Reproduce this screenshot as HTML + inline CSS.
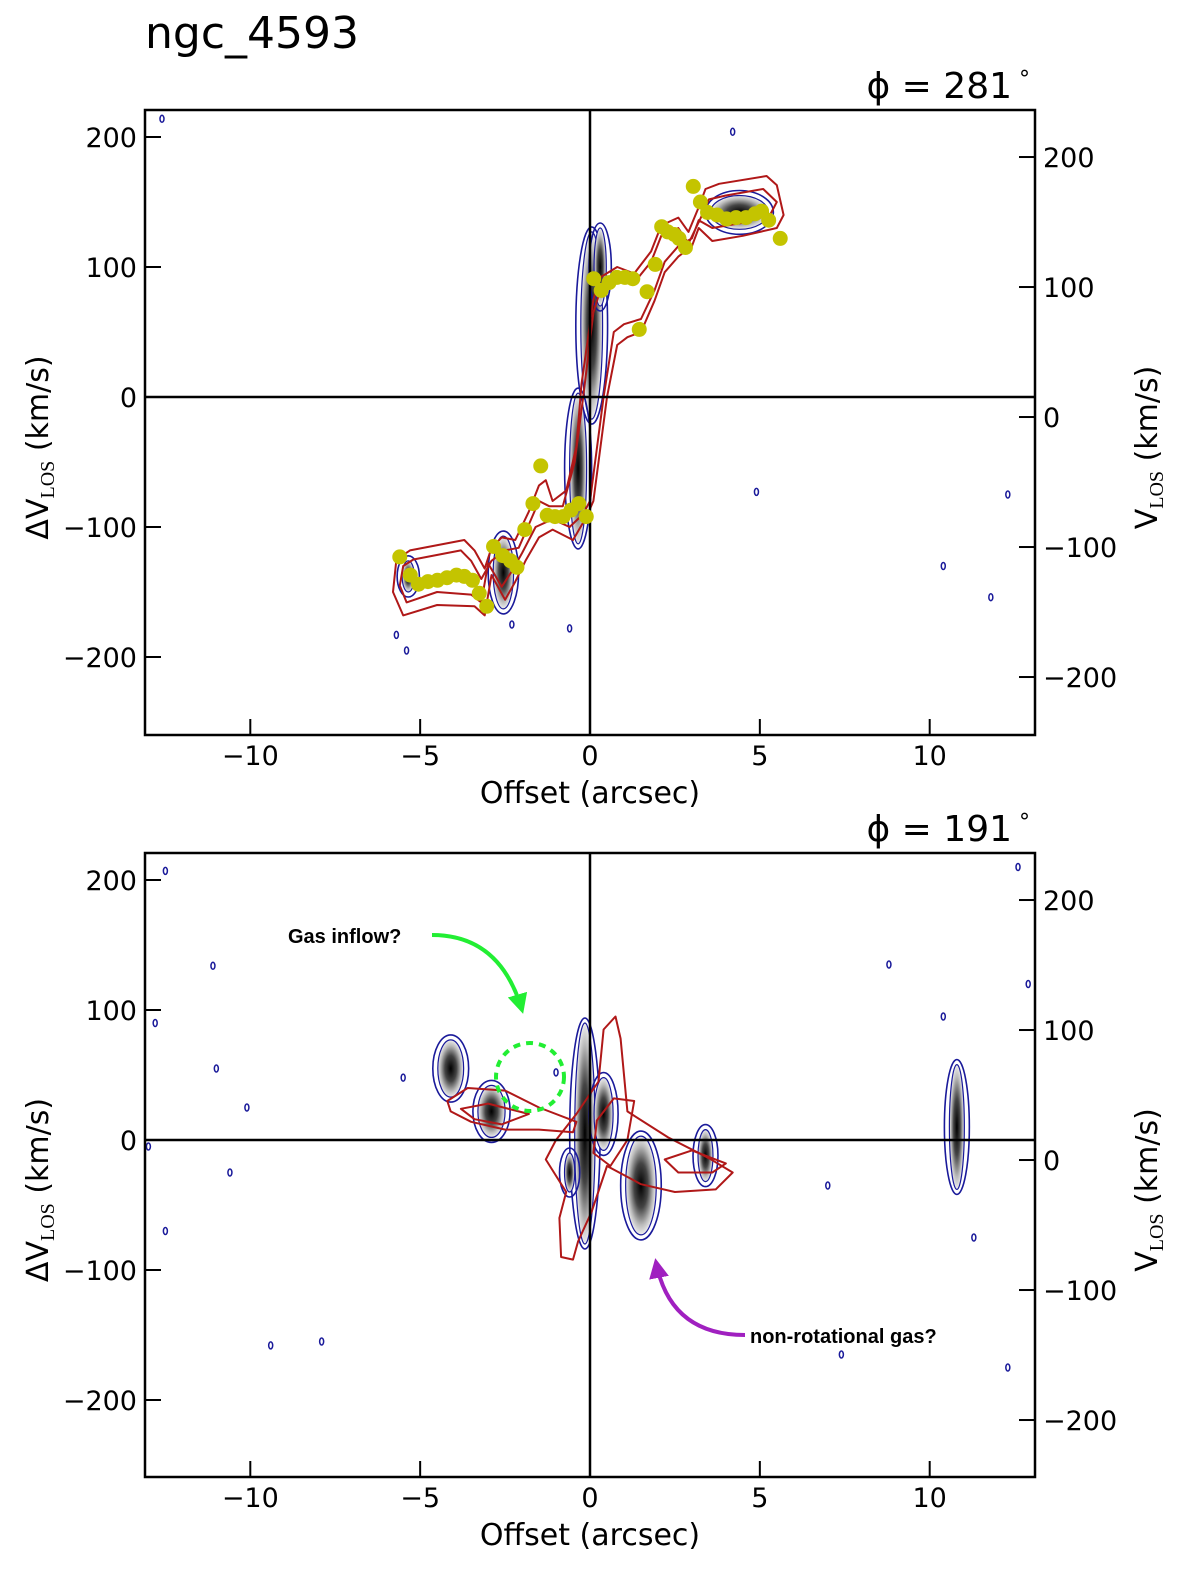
<!DOCTYPE html>
<html><head><meta charset="utf-8"><style>
body{margin:0;background:#fff;}
svg{display:block;font-family:"DejaVu Sans","Liberation Sans",sans-serif;}
</style></head><body>
<svg id="fig" width="1200" height="1594" viewBox="0 0 1200 1594" xmlns="http://www.w3.org/2000/svg">
<defs>
<radialGradient id="blob"><stop offset="0" stop-color="#000"/><stop offset="0.45" stop-color="#444"/><stop offset="0.8" stop-color="#bbb"/><stop offset="1" stop-color="#eee"/></radialGradient>
<marker id="ah-green" viewBox="0 0 10 10" refX="8" refY="5" markerWidth="5" markerHeight="5" orient="auto"><path d="M0,0 L10,5 L0,10 z" fill="#22ee33"/></marker>
<marker id="ah-purple" viewBox="0 0 10 10" refX="8" refY="5" markerWidth="5" markerHeight="5" orient="auto"><path d="M0,0 L10,5 L0,10 z" fill="#a020c0"/></marker>
</defs>
<text x="145" y="48" font-size="44">ngc_4593</text>
<g id="top"></g>
<g id="bot"></g>
</svg>
<script>
// ---- data ----
const xTicks = [-10, -5, 0, 5, 10];
const yTicksLeft = [-200, -100, 0, 100, 200];
const yTicksRight = [-200, -100, 0, 100, 200];
const vSys = 15.4; // V_LOS = dV + vSys
const topAngle = "281";
const botAngle = "191";
// yellow rotation-curve points (top panel)
const rcX = [-5.6,-5.29,-5.05,-4.77,-4.49,-4.21,-3.93,-3.70,-3.46,-3.26,-3.04,-2.84,-2.57,-2.34,-2.15,-1.92,-1.68,-1.45,-1.26,-1.03,-0.79,-0.56,-0.33,-0.11,0.11,0.33,0.56,0.79,1.03,1.26,1.45,1.68,1.92,2.11,2.29,2.48,2.62,2.81,3.04,3.25,3.46,3.74,4.02,4.30,4.59,4.86,5.05,5.26,5.6];
const rcV = [-123,-137,-144,-142,-141,-139,-137,-138,-141,-151,-161,-115,-122,-126,-131,-102,-82,-53,-91,-92,-92,-87,-82,-92,91,82,88,92,92,91,52,81,102,131,127,125,122,115,162,150,142,140,137,138,138,141,143,136,122];
// red contours top panel [x,dv]
const topOuter = [[-5.7,-125],[-5.3,-118],[-3.7,-110],[-3.4,-118],[-3.1,-132],[-2.9,-116],[-2.6,-108],[-2.2,-110],[-1.8,-88],[-1.5,-68],[-1.3,-64],[-1.1,-80],[-0.7,-72],[-0.4,-38],[-0.25,10],[0.1,75],[0.3,92],[0.8,100],[1.3,95],[1.8,112],[2.1,132],[2.6,138],[2.9,127],[3.2,146],[3.4,160],[3.8,164],[5.2,170],[5.5,163],[5.7,140],[5.5,130],[4.5,124],[3.6,120],[3.2,130],[3.0,116],[2.6,108],[2.2,96],[1.9,74],[1.5,50],[1.1,46],[0.8,40],[0.5,0],[0.3,-40],[0.1,-80],[-0.1,-92],[-0.5,-110],[-1.1,-102],[-1.5,-108],[-1.9,-126],[-2.2,-142],[-2.5,-156],[-2.9,-137],[-3.1,-168],[-3.4,-161],[-4.5,-160],[-5.5,-168],[-5.8,-150]];
const topInner = [[-5.5,-130],[-5.2,-125],[-3.8,-118],[-3.5,-126],[-3.2,-140],[-2.9,-126],[-2.5,-118],[-2.1,-116],[-1.8,-98],[-1.5,-80],[-1.2,-84],[-0.8,-84],[-0.45,-50],[-0.2,0],[0.1,65],[0.3,82],[0.8,90],[1.3,88],[1.8,104],[2.1,124],[2.6,130],[2.9,118],[3.3,140],[3.5,152],[4.0,155],[5.1,160],[5.5,150],[5.3,140],[4.5,134],[3.6,130],[3.2,136],[3.0,122],[2.6,116],[2.2,104],[1.9,82],[1.5,60],[1.0,56],[0.7,50],[0.4,0],[0.2,-40],[0.0,-80],[-0.2,-90],[-0.6,-100],[-1.1,-94],[-1.6,-100],[-2.0,-120],[-2.3,-134],[-2.6,-146],[-3.0,-128],[-3.2,-158],[-3.5,-152],[-4.5,-150],[-5.4,-158],[-5.6,-145]];
// gray emission blobs [x, dv, halfwidth(arcsec), halfheight(km/s)]
const topBlobs = [[0.05,55,0.32,72],[-0.35,-55,0.25,58],[0.3,100,0.18,30],[-2.55,-135,0.3,28],[4.4,142,0.85,13],[-5.35,-138,0.18,12]];
const botBlobs = [[-0.15,5,0.3,85],[0.4,20,0.28,28],[1.5,-35,0.45,38],[3.4,-12,0.22,20],[-2.9,22,0.4,20],[-4.1,55,0.38,22],[10.8,10,0.22,48],[-0.6,-25,0.15,15]];
// blue specks [x, dv]
const topSpecks = [[-12.6,214],[-5.7,-183],[-5.4,-195],[4.9,-73],[12.3,-75],[11.8,-154],[-0.6,-178],[-2.3,-175],[10.4,-130],[4.2,204]];
const botSpecks = [[-12.5,207],[-13,-5],[-11.1,134],[-12.8,90],[-10.6,-25],[-9.4,-158],[-7.9,-155],[-12.5,-70],[-10.1,25],[-11,55],[-5.5,48],[8.8,135],[7.4,-165],[12.6,210],[12.9,120],[12.3,-175],[11.3,-75],[10.4,95],[7.0,-35],[-1.0,52]];
// red contours bottom panel
const botA = [[-4.2,30],[-3.6,40],[-2.5,38],[-1.5,25],[-0.4,14],[-0.5,6],[-1.5,8],[-2.5,8],[-3.5,14],[-4.1,22]];
const botAin = [[-3.8,24],[-3.0,28],[-1.8,20],[-2.6,12],[-3.4,16]];
const botB = [[0.25,45],[0.4,85],[0.75,95],[0.9,78],[1.1,22],[2.3,2],[3.5,-14],[4.2,-25],[3.7,-38],[2.5,-40],[1.5,-34],[0.5,-20],[0.05,-55],[-0.35,-78],[-0.5,-92],[-0.85,-90],[-0.9,-60],[-0.7,-40],[-1.3,-15],[-1.0,0],[-0.4,20]];
const botBin = [[0.2,15],[0.7,32],[1.3,30],[1.1,0],[0.6,-20],[0.1,-10]];
const botC = [[2.2,-15],[3.0,-8],[4.0,-18],[3.6,-25],[2.6,-25]];

// ---- drawing ----
const NS = "http://www.w3.org/2000/svg";
const X0 = 145, X1 = 1035, XMIN = -13.1, XMAX = 13.1;
function sx(x){ return X0 + (x - XMIN) / (XMAX - XMIN) * (X1 - X0); }
function mk(tag, attrs, parent){ const e = document.createElementNS(NS, tag); for (const k in attrs) e.setAttribute(k, attrs[k]); parent.appendChild(e); return e; }
function pathOf(pts, sy){ return "M" + pts.map(p => sx(p[0]).toFixed(1) + "," + sy(p[1]).toFixed(1)).join(" L") + " Z"; }

function panel(g, top, bottom, zeroY, angle, blobs, specks, reds, redsThin, points){
  const sy = v => zeroY - v * 1.3;
  blobs.forEach(b => {
    const o = mk("ellipse", {cx: sx(b[0]), cy: sy(b[1]), rx: b[2]*34 + 5, ry: b[3]*1.3 + 5, fill: "none", stroke: "#1a1a9a", "stroke-width": 1.6}, g);
    
    
    const e = mk("ellipse", {cx: sx(b[0]), cy: sy(b[1]), rx: b[2]*34, ry: b[3]*1.3, fill: "url(#blob)", stroke: "#1a1a9a", "stroke-width": 1.2}, g);
    
    
  });
  specks.forEach(s => {
    const e = mk("ellipse", {cx: sx(s[0]), cy: sy(s[1]), rx: 2, ry: 3.5, fill: "none", stroke: "#1a1a9a", "stroke-width": 1.5}, g);
    
    
  });
  reds.forEach(r => {
    const e = mk("path", {d: pathOf(r, sy), fill: "none", stroke: "#b01818", "stroke-width": 2, "stroke-linejoin": "round"}, g);
    
    
  });
  let l = mk("line", {x1: X0, x2: X1, y1: sy(0), y2: sy(0), stroke: "#000", "stroke-width": 2.5}, g);
  
  
  l = mk("line", {x1: sx(0), x2: sx(0), y1: top, y2: bottom, stroke: "#000", "stroke-width": 2.5}, g);
  
  
  if (points){
    points[0].forEach((x, i) => {
      const c = mk("circle", {cx: sx(x), cy: sy(points[1][i]), r: 7.5, fill: "#c4c400"}, g);
      
      
    });
  }
  const f = mk("rect", {x: X0, y: top, width: X1 - X0, height: bottom - top, fill: "none", stroke: "#000", "stroke-width": 2.5}, g);
  
  
  xTicks.forEach(t => {
    const tl = mk("line", {x1: sx(t), x2: sx(t), y1: bottom, y2: bottom - 16, stroke: "#000", "stroke-width": 2}, g);
    
    
    const tx = mk("text", {x: sx(t), y: bottom + 30, "font-size": 27, "text-anchor": "middle"}, g);
    tx.textContent = (t < 0 ? "\u2212" + (-t) : t);
    
    
  });
  yTicksLeft.forEach(t => {
    const tl = mk("line", {x1: X0, x2: X0 + 16, y1: sy(t), y2: sy(t), stroke: "#000", "stroke-width": 2}, g);
    
    
    const tx = mk("text", {x: X0 - 8, y: sy(t) + 10, "font-size": 27, "text-anchor": "end"}, g);
    tx.textContent = (t < 0 ? "\u2212" + (-t) : t);
    
    
  });
  yTicksRight.forEach(t => {
    const y = sy(t - vSys);
    const tl = mk("line", {x1: X1 - 16, x2: X1, y1: y, y2: y, stroke: "#000", "stroke-width": 2}, g);
    
    
    const tx = mk("text", {x: X1 + 8, y: y + 10, "font-size": 27, "text-anchor": "start"}, g);
    tx.textContent = (t < 0 ? "\u2212" + (-t) : t);
    
    
  });
  const xl = mk("text", {x: 590, y: bottom + 68, "font-size": 30, "text-anchor": "middle"}, g);
  xl.textContent = "Offset (arcsec)";
  
  
  const mid = (top + bottom) / 2 + 25;
  const yl = mk("text", {x: 0, y: 0, "font-size": 30, "text-anchor": "middle", transform: `translate(48,${mid}) rotate(-90)`}, g);
  yl.innerHTML = 'ΔV<tspan font-size="20" dy="6" font-family="Liberation Serif, serif">LOS</tspan><tspan dy="-6"> (km/s)</tspan>';
  
  
  const yr = mk("text", {x: 0, y: 0, "font-size": 30, "text-anchor": "middle", transform: `translate(1157,${mid}) rotate(-90)`}, g);
  yr.innerHTML = 'V<tspan font-size="20" dy="6" font-family="Liberation Serif, serif">LOS</tspan><tspan dy="-6"> (km/s)</tspan>';
  
  
  const at = mk("text", {x: 1030, y: top - 12, "font-size": 36, "text-anchor": "end"}, g);
  at.innerHTML = 'ϕ = ' + angle + '<tspan font-size="22" dy="-12"> °</tspan>';
  
  
}
panel(document.getElementById("top"), 110, 735, 397, topAngle, topBlobs, topSpecks, [topOuter, topInner], null, [rcX, rcV]);
panel(document.getElementById("bot"), 853, 1477, 1140, botAngle, botBlobs, botSpecks, [botA, botAin, botB, botBin, botC], null, null);

const bg = document.getElementById("bot");
let e;
e = mk("text", {x: 288, y: 943, "font-size": 20, "font-weight": "bold", "font-family": "Liberation Sans, sans-serif"}, bg);
e.textContent = "Gas inflow?";


e = mk("path", {d: "M432,935 Q500,935 522,1010", fill: "none", stroke: "#22ee33", "stroke-width": 4, "marker-end": "url(#ah-green)"}, bg);


e = mk("circle", {cx: 530, cy: 1077, r: 34, fill: "none", stroke: "#22ee33", "stroke-width": 4, "stroke-dasharray": "7 6"}, bg);


e = mk("text", {x: 750, y: 1343, "font-size": 20, "font-weight": "bold", "font-family": "Liberation Sans, sans-serif"}, bg);
e.textContent = "non-rotational gas?";


e = mk("path", {d: "M745,1335 Q670,1335 656,1262", fill: "none", stroke: "#a020c0", "stroke-width": 4, "marker-end": "url(#ah-purple)"}, bg);


</script>
</body></html>
